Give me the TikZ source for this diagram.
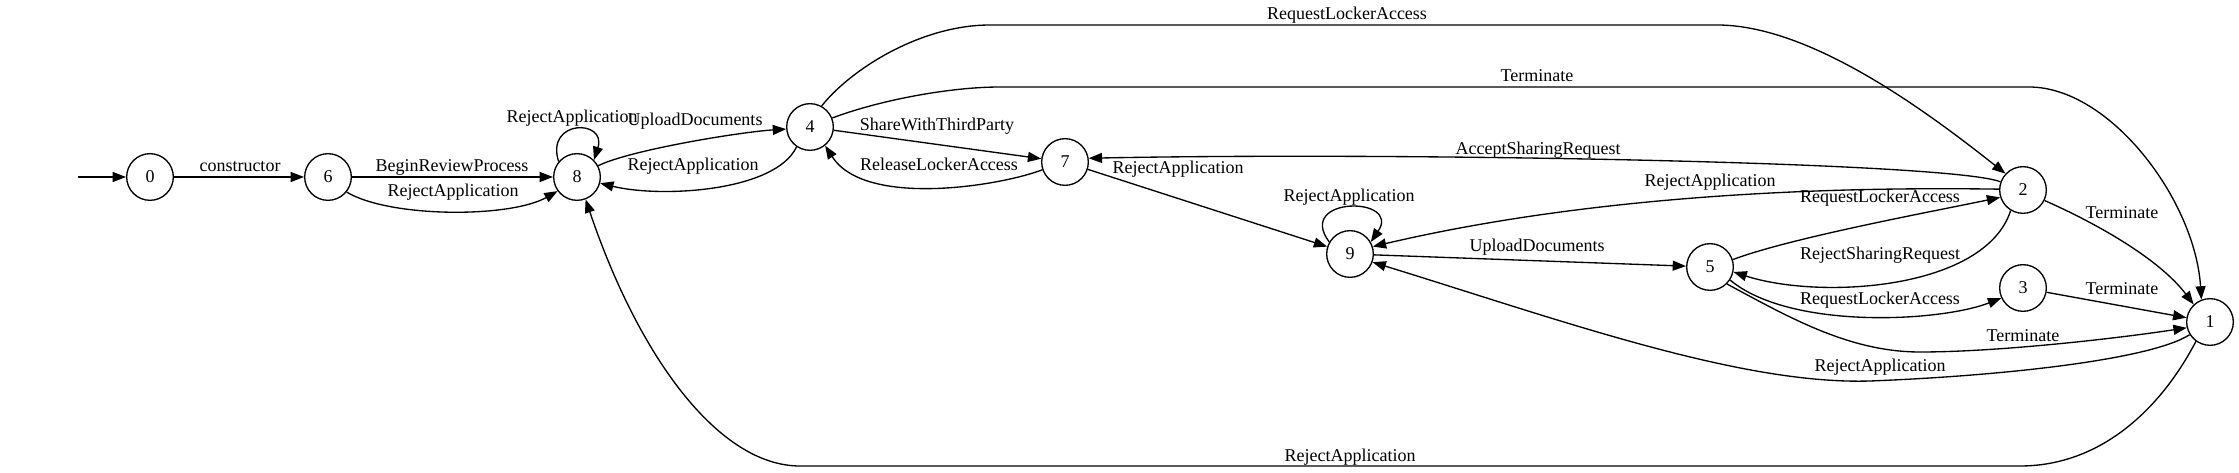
\documentclass[tikz,border=0pt]{standalone}
\usepackage{fontspec}
\setmainfont{Liberation Serif}
\usetikzlibrary{arrows.meta}

\begin{document}
\begin{tikzpicture}[
  x=0.75pt, y=-0.75pt,
  font=\fontsize{13.5pt}{16pt}\selectfont,
  state/.style={
    draw, circle, line width=1pt,
    minimum size=35pt, inner sep=0pt
  },
  trans/.style={
    -{Triangle[length=10pt, width=7.5pt]},
    line width=1pt},
  tlabel/.style={
    anchor=base, inner sep=0pt}
]
\useasboundingbox (0,0) rectangle (2239,473);

\node[state] (s0) at (150,177) {0};
\node[state] (s6) at (328,177) {6};
\node[state] (s8) at (577,177) {8};
\node[state] (s4) at (810,127) {4};
\node[state] (s7) at (1065,162) {7};
\node[state] (s9) at (1350,254) {9};
\node[state] (s5) at (1710,267) {5};
\node[state] (s2) at (2023,190) {2};
\node[state] (s3) at (2023,288) {3};
\node[state] (s1) at (2210,322) {1};

\coordinate (init) at (78,177);

\draw[trans] (init) -- (s0);
\draw[trans] (s0) -- (s6)
  node[tlabel] at (240,172) {constructor};
\draw[trans] (s6) -- (s8)
  node[tlabel] at (452,172) {BeginReviewProcess};
\draw[trans] (s6.-39) .. controls (390,218) and (510,218) .. (s8.-144)
  node[tlabel] at (453,197) {RejectApplication};
\draw[trans] (s8.140) .. controls (545,119) and (607,119) .. (s8.45)
  node[tlabel] at (572,123) {RejectApplication};
\draw[trans] (s8.28) .. controls (630,150) and (740,132) .. (s4.185)
  node[tlabel] at (695,126) {UploadDocuments};
\draw[trans] (s4.-124) .. controls (775,192) and (660,198) .. (s8.-15)
  node[tlabel] at (693,171) {RejectApplication};
\draw[trans] (s4) -- (s7)
  node[tlabel] at (937,131) {ShareWithThirdParty};
\draw[trans] (s7.-161) .. controls (1000,186) and (865,208) .. (s4.-51)
  node[tlabel] at (939,171) {ReleaseLockerAccess};
\draw[trans] (s7) -- (s9)
  node[tlabel] at (1178,174) {RejectApplication};
\draw[trans] (s9.150) .. controls (1295,196) and (1402,196) .. (s9.30)
  node[tlabel] at (1349,202) {RejectApplication};
\draw[trans] (s9) -- (s5)
  node[tlabel] at (1537,252) {UploadDocuments};
\draw[trans] (s2.160) .. controls (1950,162) and (1400,152) .. (s7.9)
  node[tlabel] at (1538,155) {AcceptSharingRequest};
\draw[trans] (s2.178) .. controls (1720,185) and (1520,212) .. (s9.18)
  node[tlabel] at (1710,187) {RejectApplication};
\draw[trans] (s5.18) .. controls (1790,238) and (1930,212) .. (s2.-162)
  node[tlabel] at (1880,203) {RequestLockerAccess};
\draw[trans] (s2.-121) .. controls (1985,290) and (1820,300) .. (s5.-12)
  node[tlabel] at (1880,260) {RejectSharingRequest};
\draw[trans] (s5.-33) .. controls (1790,330) and (1940,322) .. (s3.-155)
  node[tlabel] at (1880,305) {RequestLockerAccess};
\draw[trans] (s5.-45) .. controls (1790,318) and (1850,352) .. (1920,352)
  .. controls (2000,352) and (2120,338) .. (s1.-166)
  node[tlabel] at (2023,342) {Terminate};
\draw[trans] (s3) -- (s1)
  node[tlabel] at (2122,295) {Terminate};
\draw[trans] (s2.-26) .. controls (2100,225) and (2160,260) .. (s1.133)
  node[tlabel] at (2122,219) {Terminate};
\draw[trans] (s4.22) .. controls (880,100) and (950,87) .. (1000,87)
  -- (2029,87) .. controls (2110,87) and (2195,200) .. (s1.111)
  node[tlabel] at (1537,82) {Terminate};
\draw[trans] (s4.61) .. controls (850,70) and (920,25) .. (990,25)
  -- (1717,25) .. controls (1810,25) and (1925,110) .. (s2.137)
  node[tlabel] at (1347,19.5) {RequestLockerAccess};
\draw[trans] (s1.-148) .. controls (2150,360) and (2000,376) .. (1870,381)
  .. controls (1740,385) and (1560,320) .. (s9.-20)
  node[tlabel] at (1880,372) {RejectApplication};
\draw[trans] (s1.-126) .. controls (2160,410) and (2100,466) .. (2020,466)
  -- (800,466) .. controls (720,466) and (640,360) .. (s8.-69)
  node[tlabel] at (1350,462) {RejectApplication};

\end{tikzpicture}
\end{document}
